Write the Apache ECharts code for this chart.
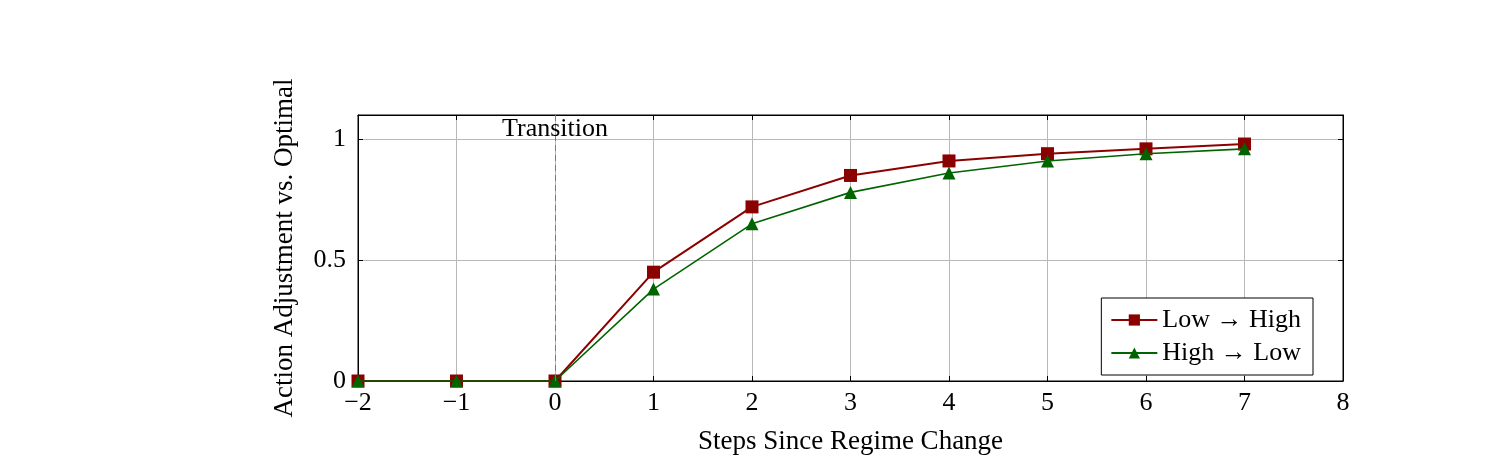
<!DOCTYPE html>
<html>
<head>
<meta charset="utf-8">
<script src="https://cdn.jsdelivr.net/npm/echarts@6/dist/echarts.min.js"></script>
<style>
  html, body { margin: 0; padding: 0; background: #fff; }
  #chart { width: 1500px; height: 460px; }
</style>
</head>
<body>
<div id="chart"></div>
<script>
// data
var steps = [-2, -1, 0, 1, 2, 3, 4, 5, 6, 7]
var lowToHigh = [0, 0, 0, 0.45, 0.72, 0.85, 0.91, 0.94, 0.96, 0.98]
var highToLow = [0, 0, 0, 0.38, 0.65, 0.78, 0.86, 0.91, 0.94, 0.96]
var yTicks = [0, 0.5, 1]
var transitionAt = 0

var font = 'Liberation Serif'
var red = '#8b0000'
var green = '#006400'

function pairs(ys) {
  return steps.map(function(x, i) { return [x, ys[i]] })
}
function fmtX(v) {
  return String(v).replace('-', '\u2212')
}

var chart = echarts.init(document.getElementById('chart'), null, { renderer: 'canvas' })

var xBase = {
  type: 'value',
  min: -2,
  max: 8,
  interval: 1,
  axisLine: { show: true, onZero: false, lineStyle: { color: '#000', width: 1 } },
  axisTick: { show: true, inside: true, length: 5, lineStyle: { color: '#000' } },
  splitLine: { show: false }
}
var yBase = {
  type: 'value',
  min: 0,
  max: 1.1,
  interval: 0.5,
  axisLine: { show: true, onZero: false, lineStyle: { color: '#000', width: 1 } },
  axisTick: { show: true, inside: true, length: 5, lineStyle: { color: '#000' }, customValues: yTicks },
  splitLine: { show: false }
}

chart.setOption({
  animation: false,
  textStyle: { fontFamily: font },
  grid: {
    left: 358,
    right: 157,
    top: 115,
    bottom: 77,
    show: true,
    borderColor: '#000',
    borderWidth: 1
  },
  legend: {
    data: ['Low \u2192 High', 'High \u2192 Low'],
    orient: 'vertical',
    right: 187,
    top: 298,
    backgroundColor: '#fff',
    borderColor: '#000',
    borderWidth: 1,
    borderRadius: 0,
    padding: [9, 12, 9, 9],
    itemGap: 7,
    itemWidth: 46,
    itemHeight: 14,
    textStyle: { fontFamily: font, fontSize: 26, color: '#000' }
  },
  xAxis: [
    Object.assign({}, xBase, {
      position: 'bottom',
      name: 'Steps Since Regime Change',
      nameLocation: 'middle',
      nameGap: 47,
      nameTextStyle: { fontFamily: font, fontSize: 27, color: '#000' },
      axisLabel: { show: true, margin: 9, fontFamily: font, fontSize: 26, color: '#000', formatter: fmtX },
      splitLine: { show: true, lineStyle: { color: '#b8b8b8', width: 1 } }
    }),
    Object.assign({}, xBase, { position: 'top', axisLabel: { show: false } })
  ],
  yAxis: [
    Object.assign({}, yBase, {
      position: 'left',
      name: 'Action Adjustment vs. Optimal',
      nameLocation: 'middle',
      nameGap: 60,
      nameTextStyle: { fontFamily: font, fontSize: 27, color: '#000' },
      axisLabel: { show: true, margin: 12, fontFamily: font, fontSize: 26, color: '#000', customValues: yTicks },
      splitLine: { show: true, lineStyle: { color: '#b8b8b8', width: 1 } }
    }),
    Object.assign({}, yBase, { position: 'right', axisLabel: { show: false } })
  ],
  series: [
    {
      name: 'Low \u2192 High',
      type: 'line',
      data: pairs(lowToHigh),
      symbol: 'rect',
      symbolSize: 13,
      itemStyle: { color: red },
      lineStyle: { color: red, width: 2 },
      z: 3,
      markLine: {
        silent: true,
        symbol: 'none',
        label: { show: false },
        lineStyle: { color: '#7a7a7a', type: [6, 4], width: 1 },
        data: [{ xAxis: transitionAt }]
      },
      markPoint: {
        silent: true,
        symbol: 'circle',
        symbolSize: 0,
        label: {
          show: true,
          position: 'inside',
          formatter: 'Transition',
          fontFamily: font,
          fontSize: 26,
          color: '#000'
        },
        data: [{ coord: [transitionAt, 1.04] }]
      }
    },
    {
      name: 'High \u2192 Low',
      type: 'line',
      data: pairs(highToLow),
      symbol: 'triangle',
      symbolSize: 13,
      itemStyle: { color: green },
      lineStyle: { color: green, width: 1.6 },
      z: 4
    }
  ]
})
</script>
</body>
</html>
